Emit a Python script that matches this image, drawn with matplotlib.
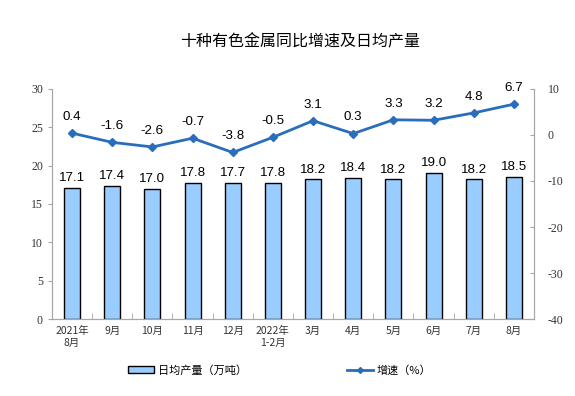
import numpy as np
import matplotlib.pyplot as plt
from matplotlib.patches import Patch
from matplotlib.lines import Line2D

plt.rcParams['font.family'] = ['Noto Sans CJK SC', 'DejaVu Sans']
plt.rcParams['axes.unicode_minus'] = False

months = ['2021年\n8月', '9月', '10月', '11月', '12月', '2022年\n1-2月',
          '3月', '4月', '5月', '6月', '7月', '8月']
output = [17.1, 17.4, 17.0, 17.8, 17.7, 17.8, 18.2, 18.4, 18.2, 19.0, 18.2, 18.5]
growth = [0.4, -1.6, -2.6, -0.7, -3.8, -0.5, 3.1, 0.3, 3.3, 3.2, 4.8, 6.7]

bar_color = '#99CCFF'
line_color = '#2A6EBB'
spine_color = '#A6A6A6'

fig = plt.figure(figsize=(5.75, 3.96), dpi=100)
ax = fig.add_axes([0.0904, 0.1944, 0.8383, 0.5809])
ax2 = ax.twinx()

x = np.arange(len(months))
ax.bar(x, output, width=0.4, color=bar_color, edgecolor='black', linewidth=1.0, zorder=2)
for xi, v in zip(x, output):
    ax.text(xi, v + 0.5, f'{v:.1f}', ha='center', va='bottom',
            fontsize=9.6, family='Liberation Sans')

ax2.plot(x, growth, color=line_color, linewidth=2, marker='D', markersize=4, zorder=3)
for xi, v in zip(x, growth):
    ax2.text(xi, v + 2.2, f'{v:.1f}', ha='center', va='bottom',
             fontsize=9.6, family='Liberation Sans')

ax.set_xlim(-0.5, len(months) - 0.5)
ax.set_ylim(0, 30)
ax.set_yticks(range(0, 31, 5))
ax2.set_ylim(-40, 10)
ax2.set_yticks(range(-40, 11, 10))

ax.set_xticks(x)
ax.set_xticklabels(months, fontsize=7.5, color='#333333', linespacing=1.2)
ax.set_xticks(np.arange(-0.5, len(months), 1), minor=True)
ax.tick_params(axis='x', which='major', length=0, pad=5)
ax.tick_params(axis='x', which='minor', length=4, direction='in', color=spine_color)

for a in (ax, ax2):
    a.spines['top'].set_visible(False)
    for s in ('left', 'right', 'bottom'):
        a.spines[s].set_color(spine_color)
ax.tick_params(axis='y', direction='out', length=3, color=spine_color,
               labelsize=8.5, labelcolor='#333333')
ax2.tick_params(axis='y', direction='in', length=3, color=spine_color,
                labelsize=8.5, labelcolor='#333333', pad=10)
for lbl in ax.get_yticklabels() + ax2.get_yticklabels():
    lbl.set_family('Liberation Serif')

fig.text(0.522, 0.895, '十种有色金属同比增速及日均产量', ha='center', va='center', fontsize=11.5)

bar_handle = Patch(facecolor=bar_color, edgecolor='black', label='日均产量（万吨）')
line_handle = Line2D([0], [0], color=line_color, linewidth=2, marker='D', markersize=3,
                     label='增速（%）')
fig.legend(handles=[bar_handle], loc='center left', bbox_to_anchor=(0.222, 0.065),
           frameon=False, fontsize=8, handlelength=2.4, handleheight=0.5,
           handletextpad=0.3, borderpad=0, borderaxespad=0)
fig.legend(handles=[line_handle], loc='center left', bbox_to_anchor=(0.603, 0.065),
           frameon=False, fontsize=8, handlelength=2.4, handletextpad=0.3,
           borderpad=0, borderaxespad=0)

fig.savefig('out.png', dpi=100)
